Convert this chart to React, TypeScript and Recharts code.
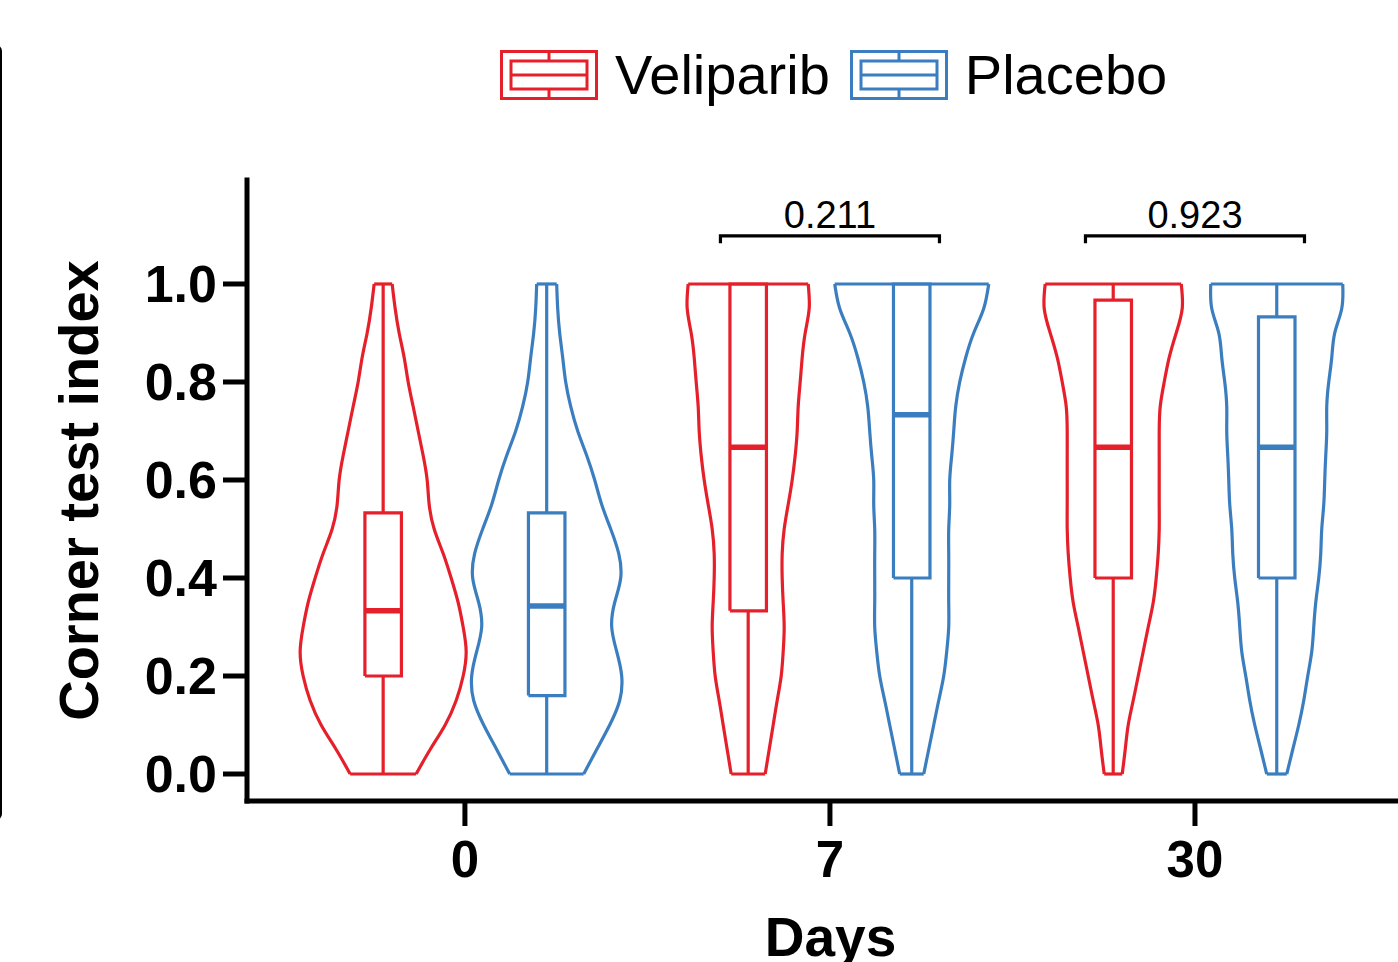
import React from 'react';
import { ComposedChart, Line, XAxis, YAxis, Legend, ReferenceDot } from 'recharts';

const FONT = '"Liberation Sans", Arial, Helvetica, sans-serif';

const days = ['0', '7', '30'];
const groups = ['Veliparib', 'Placebo'];
const COLORS = ['#E5202A', '#3B7EBF'];

const densityLevels = [
  0, 0.05, 0.1, 0.15, 0.2, 0.25, 0.3, 0.35, 0.4, 0.45, 0.5,
  0.55, 0.6, 0.65, 0.7, 0.75, 0.8, 0.85, 0.9, 0.95, 1.0,
];

// kernel density (arbitrary units) per day: 0, 7, 30
const veliparibDensity = [
  [33, 47, 62, 73, 80, 83, 80, 75, 68, 60, 51, 46, 44, 40, 35, 30, 25, 21, 16, 12, 9],
  [17, 21, 25, 29, 33, 35, 36, 35, 34, 34, 36, 40, 44, 47, 49, 50, 52, 54, 57, 61, 60],
  [9, 12, 15, 20, 25, 30, 35, 40, 43, 45, 46, 46, 46, 46, 46, 47, 51, 56, 63, 69, 68],
];
const placeboDensity = [
  [37, 50, 63, 73, 75, 70, 65, 68, 74, 72, 64, 55, 48, 40, 31, 24, 19, 16, 13, 11, 10],
  [12, 17, 22, 27, 32, 35, 37, 37, 37, 37, 37, 38, 38, 40, 42, 44, 48, 54, 62, 72, 77],
  [10, 16, 22, 27, 31, 35, 37, 39, 42, 44, 45, 47, 48, 49, 50, 50, 52, 55, 58, 65, 66],
];

// box plot stats per day
const veliparibMin = [0, 0, 0];
const veliparibQ1 = [0.2, 0.333, 0.4];
const veliparibMedian = [0.333, 0.667, 0.667];
const veliparibQ3 = [0.533, 1.0, 0.967];
const veliparibMax = [1, 1, 1];

const placeboMin = [0, 0, 0];
const placeboQ1 = [0.16, 0.4, 0.4];
const placeboMedian = [0.343, 0.733, 0.667];
const placeboQ3 = [0.533, 1.0, 0.933];
const placeboMax = [1, 1, 1];

const pValues = ['', '0.211', '0.923'];

// layout constants (x units = one day category)
const GROUP_OFFSET = 0.224;
const DENSITY_SCALE = 1 / 365;
const BOX_HALF = 0.05;
const BRACKET_HALF = 0.3;
const BRACKET_Y = 1.098;
const BRACKET_TICK = 0.015;
const STROKE = 3.2;

type Pt = { x: number; y: number };
type Series = { key: string; data: Pt[]; color: string; width: number; curve: 'natural' | 'linear' };

const stats = [
  { density: veliparibDensity, min: veliparibMin, q1: veliparibQ1, med: veliparibMedian, q3: veliparibQ3, max: veliparibMax },
  { density: placeboDensity, min: placeboMin, q1: placeboQ1, med: placeboMedian, q3: placeboQ3, max: placeboMax },
];

const series: Series[] = [];
days.forEach((_, d) => {
  stats.forEach((s, g) => {
    const c = d + (g === 0 ? -GROUP_OFFSET : GROUP_OFFSET);
    const color = COLORS[g];
    const w = s.density[d];
    const last = densityLevels.length - 1;
    const k = `${d}-${g}`;
    series.push({ key: `l${k}`, color, width: STROKE, curve: 'natural', data: densityLevels.map((y, i) => ({ x: c - w[i] * DENSITY_SCALE, y })) });
    series.push({ key: `r${k}`, color, width: STROKE, curve: 'natural', data: densityLevels.map((y, i) => ({ x: c + w[i] * DENSITY_SCALE, y })) });
    series.push({ key: `b${k}`, color, width: STROKE, curve: 'linear', data: [
      { x: c - w[0] * DENSITY_SCALE, y: densityLevels[0] }, { x: c + w[0] * DENSITY_SCALE, y: densityLevels[0] },
    ] });
    series.push({ key: `t${k}`, color, width: STROKE, curve: 'linear', data: [
      { x: c - w[last] * DENSITY_SCALE, y: densityLevels[last] }, { x: c + w[last] * DENSITY_SCALE, y: densityLevels[last] },
    ] });
    series.push({ key: `box${k}`, color, width: STROKE, curve: 'linear', data: [
      { x: c - BOX_HALF, y: s.q1[d] }, { x: c + BOX_HALF, y: s.q1[d] }, { x: c + BOX_HALF, y: s.q3[d] },
      { x: c - BOX_HALF, y: s.q3[d] }, { x: c - BOX_HALF, y: s.q1[d] },
    ] });
    series.push({ key: `wl${k}`, color, width: STROKE, curve: 'linear', data: [{ x: c, y: s.min[d] }, { x: c, y: s.q1[d] }] });
    if (s.max[d] > s.q3[d]) {
      series.push({ key: `wh${k}`, color, width: STROKE, curve: 'linear', data: [{ x: c, y: s.q3[d] }, { x: c, y: s.max[d] }] });
    }
    series.push({ key: `m${k}`, color, width: 5.5, curve: 'linear', data: [{ x: c - BOX_HALF, y: s.med[d] }, { x: c + BOX_HALF, y: s.med[d] }] });
  });
  if (pValues[d]) {
    series.push({ key: `br${d}`, color: '#000', width: STROKE, curve: 'linear', data: [
      { x: d - BRACKET_HALF, y: BRACKET_Y - BRACKET_TICK }, { x: d - BRACKET_HALF, y: BRACKET_Y },
      { x: d + BRACKET_HALF, y: BRACKET_Y }, { x: d + BRACKET_HALF, y: BRACKET_Y - BRACKET_TICK },
    ] });
  }
});

const LegendIcon = ({ color }: { color: string }) => (
  <svg width={98} height={50} style={{ display: 'block' }}>
    <rect x={1.5} y={1.5} width={95} height={47} fill="none" stroke={color} strokeWidth={3} />
    <rect x={11} y={11} width={76} height={28} fill="none" stroke={color} strokeWidth={3} />
    <line x1={11} x2={87} y1={25} y2={25} stroke={color} strokeWidth={3} />
    <line x1={49} x2={49} y1={2} y2={11} stroke={color} strokeWidth={3} />
    <line x1={49} x2={49} y1={39} y2={48} stroke={color} strokeWidth={3} />
  </svg>
);

const LegendContent = () => (
  <div style={{ display: 'flex', alignItems: 'center', fontFamily: FONT, fontSize: 56, color: '#000', lineHeight: 1 }}>
    {groups.map((name, i) => (
      <div key={name} style={{ display: 'flex', alignItems: 'center', marginRight: 20 }}>
        <LegendIcon color={COLORS[i]} />
        <span style={{ marginLeft: 17 }}>{name}</span>
      </div>
    ))}
  </div>
);

const App: React.FC = () => {
  return (
    <div style={{ position: 'absolute', left: 0, top: 0, width: 1398, height: 962, overflow: 'hidden', background: '#fff' }}>
      <div style={{ position: 'absolute', left: -100, top: 45, width: 102, height: 775, boxSizing: 'border-box', border: '2px solid #000', borderRadius: 6 }} />
      <ComposedChart width={1440} height={1000} margin={{ top: 180, right: 26, bottom: 99, left: 127 }}>
        <XAxis
          type="number"
          dataKey="x"
          domain={[-0.597, 2.6]}
          allowDataOverflow
          ticks={[0, 1, 2]}
          tickFormatter={(v: number) => days[v] ?? ''}
          height={100}
          tickSize={25}
          tickMargin={15}
          axisLine={{ stroke: '#000', strokeWidth: 5, strokeLinecap: 'square' }}
          tickLine={{ stroke: '#000', strokeWidth: 5 }}
          tick={{ fontSize: 51, fontWeight: 700, fill: '#000', fontFamily: FONT }}
          label={{ value: 'Days', position: 'bottom', offset: 16, fontSize: 55, fontWeight: 700, fill: '#000', fontFamily: FONT }}
        />
        <YAxis
          type="number"
          domain={[-0.0551, 1.2122]}
          allowDataOverflow
          ticks={[0, 0.2, 0.4, 0.6, 0.8, 1.0]}
          tickFormatter={(v: number) => v.toFixed(1)}
          width={120}
          tickSize={24}
          tickMargin={6}
          axisLine={{ stroke: '#000', strokeWidth: 5, strokeLinecap: 'square' }}
          tickLine={{ stroke: '#000', strokeWidth: 5 }}
          tick={{ fontSize: 52, fontWeight: 700, fill: '#000', fontFamily: FONT }}
          label={{ value: 'Corner test index', angle: -90, position: 'left', offset: 49, fontSize: 56, fontWeight: 700, fill: '#000', fontFamily: FONT, style: { textAnchor: 'middle' } }}
        />
        <Legend
          layout="vertical"
          verticalAlign="middle"
          align="center"
          content={() => <LegendContent />}
          wrapperStyle={{ top: 47, left: 500, width: 720 }}
        />
        {series.map((s) => (
          <Line
            key={s.key}
            data={s.data}
            dataKey="y"
            type={s.curve}
            stroke={s.color}
            strokeWidth={s.width}
            strokeLinejoin="miter"
            dot={false}
            activeDot={false}
            legendType="none"
            isAnimationActive={false}
          />
        ))}
        {pValues.map((p, d) =>
          p ? (
            <ReferenceDot
              key={`p${d}`}
              x={d}
              y={1.141}
              r={0}
              fill="none"
              stroke="none"
              label={{ value: p, position: 'center', fontSize: 38, fill: '#000', fontFamily: FONT }}
            />
          ) : null
        )}
      </ComposedChart>
    </div>
  );
};

export default App;
